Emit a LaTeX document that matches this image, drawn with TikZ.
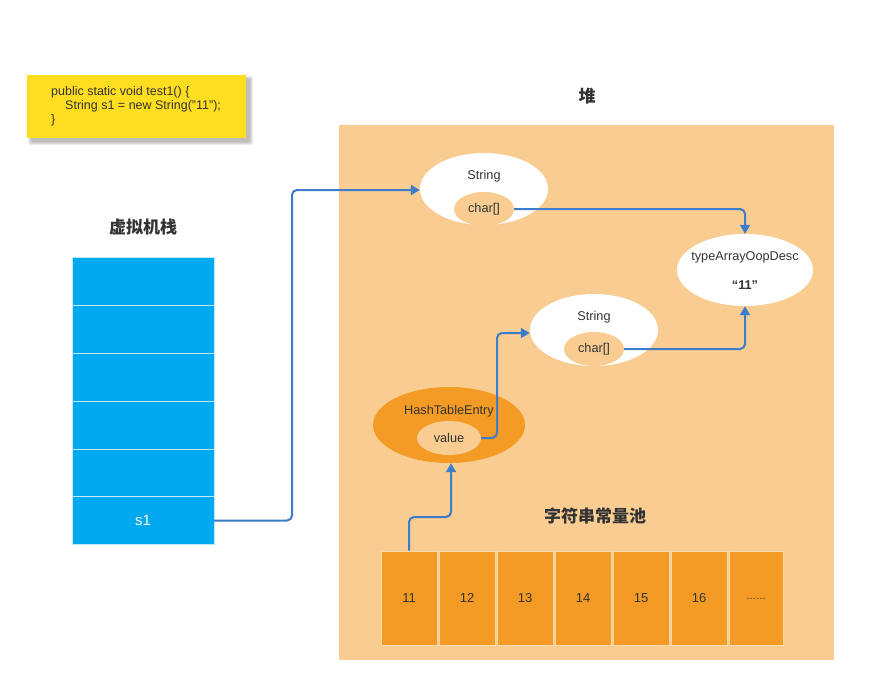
\documentclass[tikz,border=0pt]{standalone}
\usepackage{fontspec}
\setmainfont{Liberation Sans}
\newfontfamily\cjk{Noto Sans CJK SC}
\usetikzlibrary{arrows.meta,shapes.geometric}
\definecolor{heap}{RGB}{249,205,146}
\definecolor{stackblue}{RGB}{3,169,240}
\definecolor{poolorange}{RGB}{243,155,36}
\definecolor{note}{RGB}{255,221,33}
\definecolor{link}{RGB}{61,124,201}
\definecolor{ink}{RGB}{51,51,51}
\tikzset{
  lbl/.style={text=ink,font=\fontsize{12.7}{15}\selectfont,inner sep=0pt},
  title/.style={text=ink,font=\cjk\bfseries\fontsize{17}{19}\selectfont,inner sep=0pt},
  slot/.style={fill=stackblue,draw=white!75!stackblue,line width=0.8pt,minimum width=142pt,minimum height=48pt,inner sep=0pt,outer sep=0pt},
  cell/.style={fill=poolorange,draw=white!60!poolorange,line width=0.8pt,minimum width=56pt,minimum height=94pt,inner sep=0pt,text=ink,font=\fontsize{13}{15}\selectfont},
  obj/.style={ellipse,fill=white,minimum width=128pt,minimum height=72pt,inner sep=0pt},
  inner/.style={ellipse,fill=heap,minimum width=60pt,minimum height=34pt,inner sep=0pt,text=ink,font=\fontsize{12.7}{15}\selectfont},
  ref/.style={draw=link,line width=2pt,rounded corners=5pt,-{Triangle[length=9pt,width=10pt]}},
}
\begin{document}
\begin{tikzpicture}[x=1pt,y=-1pt]
\useasboundingbox[fill=white] (0,0) rectangle (895,693);

% soft shadow under the source note, built from stacked translucent layers
\foreach \g in {0,1,2,3}
  \fill[black,opacity=0.07,rounded corners=2pt]
    (31-\g,79-\g) rectangle (250+\g,142+\g);

% method source note
\node[fill=note,minimum width=219pt,minimum height=63pt,inner sep=0pt]
  (code) at (136.5,106.5) {};
\node[anchor=west,lbl,align=left,font=\fontsize{12.5}{14}\selectfont] (codetext) at (51,106.5)
  {public static void test1() \{\\\hspace{14pt}String s1 = new String("11");\\\}};

% heap area
\node[fill=heap,minimum width=495pt,minimum height=535pt,inner sep=0pt] (heap) at (586.5,392.5) {};
\node[title] (heaptitle) at (587,96) {堆};

% JVM stack
\node[title] (stacktitle) at (143,227) {虚拟机栈};
\foreach \i/\y in {1/281,2/329,3/377,4/425,5/473}
  \node[slot] (slot\i) at (143,\y) {};
\node[slot,text=white,font=\fontsize{15}{17}\selectfont] (s1) at (143,520.5) {s1};

% heap objects
\node[obj] (str1) at (484,189) {};
\node[lbl] (str1lbl) at (484,176) {String};
\node[inner] (chars1) at (484,209) {char[]};

\node[obj,minimum width=136pt] (oop) at (745,270) {};
\node[lbl] (ooplbl) at (745,257) {typeArrayOopDesc};
\node[lbl,font=\bfseries\fontsize{12.7}{15}\selectfont] (oopval) at (745,285) {“11”};

\node[obj] (str2) at (594,330) {};
\node[lbl] (str2lbl) at (594,317) {String};
\node[inner] (chars2) at (594,349) {char[]};

\node[obj,fill=poolorange,minimum width=152pt,minimum height=76pt] (entry) at (449,425) {};
\node[lbl] (entrylbl) at (449,411) {HashTableEntry};
\node[inner,minimum width=64pt] (value) at (449,438) {value};

% string constant pool
\node[title] (pooltitle) at (595,516) {字符串常量池};
\foreach \i/\x/\t in {1/409/11,2/467/12,3/525/13,4/583/14,5/641/15,6/699/16}
  \node[cell] (c\i) at (\x,598) {\t};
\node[cell,minimum width=54pt] (c7) at (756,598) {\raisebox{-2pt}{\fontsize{10}{10}\selectfont ……}};

% references
\draw[ref] (s1.east) -- (292,520.5) -- (292,190) -- (str1.west |- 0,190);
\draw[ref] (chars1.east) -- (745,209) -- (oop.north);
\draw[ref] (chars2.east) -- (745,349) -- (oop.south);
\draw[ref] (value.east) -- (497,438) -- (497,333) -- (str2.west |- 0,333);
\draw[ref] (c1.north) -- (409,517) -- (451,517) -- (entry.south -| 451,0);
\end{tikzpicture}
\end{document}
